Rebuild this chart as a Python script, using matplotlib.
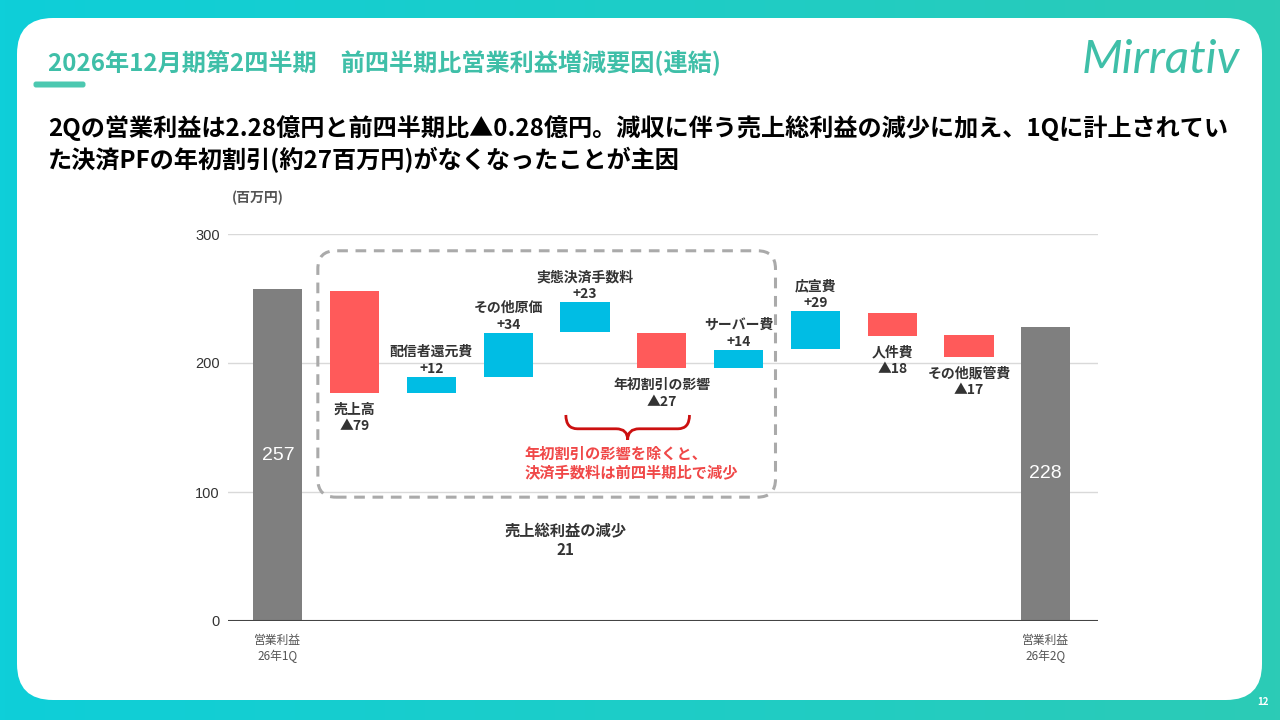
import numpy as np
import matplotlib
matplotlib.use('Agg')
from matplotlib import pyplot as plt
from matplotlib.patches import FancyBboxPatch, PathPatch
from matplotlib.path import Path

plt.rcParams['font.family'] = ['Noto Sans CJK JP', 'DejaVu Sans']

# データ（百万円）
labels = ['営業利益\n26年1Q', '売上高', '配信者還元費', 'その他原価', '実態決済手数料',
          '年初割引の影響', 'サーバー費', '広宣費', '人件費', 'その他販管費', '営業利益\n26年2Q']
values = [257, -79, 12, 34, 23, -27, 14, 29, -18, -17, 228]
bar_start = [0, 256, 177, 189, 224, 223, 196, 211, 239, 222, 0]
kinds = ['total', 'step', 'step', 'step', 'step', 'step', 'step', 'step', 'step', 'step', 'total']
yticks = [0, 100, 200, 300]

title = '2026年12月期第2四半期　前四半期比営業利益増減要因(連結)'
subtitle = ('2Qの営業利益は2.28億円と前四半期比▲0.28億円。減収に伴う売上総利益の減少に加え、1Qに計上されてい\n'
            'た決済PFの年初割引(約27百万円)がなくなったことが主因')
note_red = '年初割引の影響を除くと、\n決済手数料は前四半期比で減少'
note_gross = '売上総利益の減少\n21'

GREY = '#7f7f7f'
RED = '#ff5a5a'
BLUE = '#00bde4'
TEAL = '#3fbfa8'
DARK = '#333333'

fig = plt.figure(figsize=(12.8, 7.2), dpi=100)

# 背景（グラデーション＋白いカード）
bg = fig.add_axes([0, 0, 1, 1], zorder=0)
bg.set_xlim(0, 1280)
bg.set_ylim(720, 0)
bg.axis('off')
c_left = np.array([14, 207, 217]) / 255
c_right = np.array([44, 203, 182]) / 255
t = np.linspace(0, 1, 256)
grad = (c_left[None, :] * (1 - t[:, None]) + c_right[None, :] * t[:, None])[None, :, :]
bg.imshow(grad, extent=[0, 1280, 720, 0], aspect='auto')
card = FancyBboxPatch((17 + 36, 18 + 36), 1245 - 72, 682 - 72,
                      boxstyle='round,pad=36', fc='white', ec='none')
bg.add_patch(card)
bar_ul = FancyBboxPatch((36, 84), 47, 1, boxstyle='round,pad=2.5', fc='#4cc8b0', ec='none')
bg.add_patch(bar_ul)
bg.text(48, 62, title, color=TEAL, fontsize=17.4, fontweight='bold', va='center', ha='left')
bg.text(48, 144, subtitle, color='black', fontsize=17.4, fontweight='bold', va='center',
        ha='left', linespacing=1.3)
bg.text(1240, 60, 'Mirrativ', color=TEAL, fontsize=34, family=['Lato', 'DejaVu Sans'],
        fontweight='normal', style='italic', ha='right', va='center')
bg.text(1263, 702, '12', color='white', fontsize=7, fontweight='bold', ha='center', va='center')

# グラフ本体
ax = fig.add_axes([228 / 1280, 1 - 621 / 720, 870 / 1280, 387 / 720], zorder=1)
ax.set_facecolor('none')
x = np.arange(len(labels))
colors = []
for k, v in zip(kinds, values):
    if k == 'total':
        colors.append(GREY)
    elif v > 0:
        colors.append(BLUE)
    else:
        colors.append(RED)
ax.bar(x, values, bottom=bar_start, width=0.64, color=colors, zorder=3)

ax.set_xlim(-0.65, 10.68)
ax.set_ylim(0, 300)
ax.set_yticks(yticks)
ax.set_yticklabels([str(v) for v in yticks], family=['Liberation Sans', 'DejaVu Sans'])
ax.tick_params(axis='y', length=0, pad=6, labelsize=10.5, labelcolor=DARK)
ax.set_xticks([x[0], x[-1]])
ax.set_xticklabels([labels[0], labels[-1]], linespacing=1.35)
ax.tick_params(axis='x', length=0, pad=9, labelsize=8.5, labelcolor='#555555')
for s in ax.spines.values():
    s.set_visible(False)
ax.grid(axis='y', color='#d9d9d9', lw=1, zorder=0)
ax.axhline(0, color='#444444', lw=1.5, zorder=4)
ax.text(0.004, 1.093, '(百万円)', transform=ax.transAxes, fontsize=10, fontweight='bold',
        color='#555555', ha='left', va='center')

# ラベル
for i, (lab, v, b, k) in enumerate(zip(labels, values, bar_start, kinds)):
    if k == 'total':
        ax.text(i, b + v / 2, str(v), color='white', fontsize=14, ha='center', va='center',
                family=['Liberation Sans', 'DejaVu Sans'], zorder=5)
        continue
    txt = lab + '\n' + (f'+{v}' if v > 0 else f'▲{-v}')
    if v > 0:
        ax.annotate(txt, (i, b + v), xytext=(0, 1), textcoords='offset points',
                    ha='center', va='bottom', fontsize=10, fontweight='bold', color=DARK,
                    linespacing=1.25)
    else:
        ax.annotate(txt, (i, b + v), xytext=(0, -7), textcoords='offset points',
                    ha='center', va='top', fontsize=10, fontweight='bold', color=DARK,
                    linespacing=1.25)

# 点線の枠
px_x = 870 / 11.33
px_y = 387 / 300
r = 18 / px_x
box = FancyBboxPatch((0.52 + r, 96 + r * (px_x / px_y)), 5.96 - 2 * r,
                     191 - 2 * r * (px_x / px_y),
                     boxstyle=f'round,pad={r}', mutation_aspect=px_x / px_y,
                     fc='none', ec='#aaaaaa', lw=2.2, ls=(0, (3.5, 2.5)), zorder=2)
ax.add_patch(box)

# 中括弧
x0, x1 = 3.75, 5.36
xc = (x0 + x1) / 2
yt, ym, yb = 159.7, 149.0, 140.5
dx = 0.15
verts = [(x0, yt), (x0, ym), (x0 + dx, ym), (xc - dx, ym), (xc, ym), (xc, yb),
         (xc, ym), (xc + dx, ym), (x1 - dx, ym), (x1, ym), (x1, yt)]
codes = [Path.MOVETO, Path.CURVE3, Path.CURVE3, Path.LINETO, Path.CURVE3, Path.CURVE3,
         Path.CURVE3, Path.CURVE3, Path.LINETO, Path.CURVE3, Path.CURVE3]
ax.add_patch(PathPatch(Path(verts, codes), fc='none', ec='#cc1010', lw=2, zorder=4))

ax.text(3.216, 136, note_red, color='#f04848', fontsize=11, fontweight='bold',
        ha='left', va='top', linespacing=1.2)
ax.text(3.74, 76, note_gross, color=DARK, fontsize=11, fontweight='bold',
        ha='center', va='top', linespacing=1.25)

fig.savefig('out.png', dpi=100)
